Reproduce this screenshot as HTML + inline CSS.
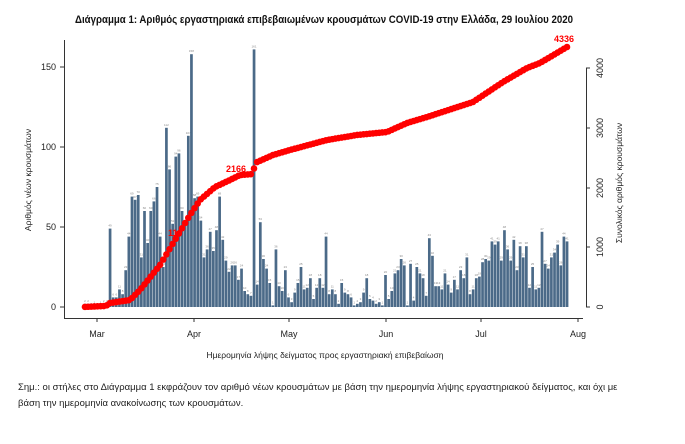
<!DOCTYPE html>
<html><head><meta charset="utf-8"><style>
html,body{margin:0;padding:0;background:#fff;}
svg{display:block;font-family:"Liberation Sans",sans-serif;}
</style></head><body>
<svg id="s" width="685" height="444" viewBox="0 0 685 444" xmlns="http://www.w3.org/2000/svg">
<text x="324" y="23" text-anchor="middle" font-size="11" font-weight="bold" fill="#111" textLength="498" lengthAdjust="spacingAndGlyphs">Διάγραμμα 1: Αριθμός εργαστηριακά επιβεβαιωμένων κρουσμάτων COVID-19 στην Ελλάδα, 29 Ιουλίου 2020</text>
<g id="bars"></g>
<g id="dots"></g>
<!-- left axis -->
<line x1="64.5" y1="40" x2="64.5" y2="318" stroke="#333" stroke-width="1"/>
<g stroke="#333"><line x1="60" y1="67" x2="64" y2="67"/><line x1="60" y1="147" x2="64" y2="147"/><line x1="60" y1="227" x2="64" y2="227"/><line x1="60" y1="307" x2="64" y2="307"/></g>
<g font-size="9" fill="#222" text-anchor="end"><text x="56" y="70">150</text><text x="56" y="150">100</text><text x="56" y="230">50</text><text x="56" y="310">0</text></g>
<text transform="translate(31,180) rotate(-90)" text-anchor="middle" font-size="8.5" fill="#222">Αριθμός νέων κρουσμάτων</text>
<!-- bottom axis -->
<line x1="64" y1="318.5" x2="583" y2="318.5" stroke="#333"/>
<g stroke="#333"><line x1="97" y1="318" x2="97" y2="322"/><line x1="194" y1="318" x2="194" y2="322"/><line x1="289" y1="318" x2="289" y2="322"/><line x1="386" y1="318" x2="386" y2="322"/><line x1="481" y1="318" x2="481" y2="322"/><line x1="578" y1="318" x2="578" y2="322"/></g>
<g font-size="9" fill="#222" text-anchor="middle"><text x="97" y="337">Mar</text><text x="194" y="337">Apr</text><text x="289" y="337">May</text><text x="386" y="337">Jun</text><text x="481" y="337">Jul</text><text x="578" y="337">Aug</text></g>
<text x="325" y="358" text-anchor="middle" font-size="8.5" fill="#222">Ημερομηνία λήψης δείγματος προς εργαστηριακή επιβεβαίωση</text>
<!-- right axis -->
<line x1="586.5" y1="68" x2="586.5" y2="307" stroke="#333"/>
<g stroke="#333"><line x1="586" y1="68" x2="590" y2="68"/><line x1="586" y1="128" x2="590" y2="128"/><line x1="586" y1="188" x2="590" y2="188"/><line x1="586" y1="247" x2="590" y2="247"/><line x1="586" y1="307" x2="590" y2="307"/></g>
<g font-size="9" fill="#222" text-anchor="middle"><text transform="translate(603,68) rotate(-90)">4000</text><text transform="translate(603,128) rotate(-90)">3000</text><text transform="translate(603,188) rotate(-90)">2000</text><text transform="translate(603,247) rotate(-90)">1000</text><text transform="translate(603,307) rotate(-90)">0</text></g>
<text transform="translate(622,183) rotate(-90)" text-anchor="middle" font-size="8.5" fill="#222">Συνολικός αριθμός κρουσμάτων</text>
<g font-weight="bold" fill="#f00" font-size="9"><text x="168" y="236">110</text><text x="226" y="172">2166</text><text x="554" y="42">4336</text></g>
<text x="18" y="390" font-size="9.5" fill="#222">Σημ.: οι στήλες στο Διάγραμμα 1 εκφράζουν τον αριθμό νέων κρουσμάτων με βάση την ημερομηνία λήψης εργαστηριακού δείγματος, και όχι με</text>
<text x="18" y="406" font-size="9.5" fill="#222">βάση την ημερομηνία ανακοίνωσης των κρουσμάτων.</text>
</svg>
<script>
var NS="http://www.w3.org/2000/svg";
var vals=[2,2,0,1,0,1,2,2,
49,6,6,11,8,23,44,69,67,70,31,60,40,60,66,75,44,25,112,86,52,94,96,60,52,107,158,68,69,54,31,36,47,35,48,69,42,29,22,26,26,17,24,10,8,7,161,
14,53,30,24,15,1,36,13,10,23,6,3,9,15,25,11,12,18,5,12,18,12,44,8,11,8,2,15,9,8,6,1,2,3,9,18,5,4,2,3,1,20,5,10,21,23,30,26,1,27,4,25,
21,18,7,43,32,13,13,11,21,14,9,17,11,23,18,31,8,11,18,19,28,30,29,41,39,41,29,48,36,29,42,23,38,31,38,12,25,11,12,47,27,24,31,34,39,26,44,41];
var step=3.13,n=vals.length;
var startX=567-(n-1)*step;
var bars=document.getElementById("bars"),h="";
var xs=[];
for(var i=0;i<n;i++){
 var x=startX+i*step;xs.push(x);
 var hh=vals[i]*1.6;
 h+='<rect x="'+(x-1.3).toFixed(2)+'" y="'+(307-hh).toFixed(2)+'" width="2.7" height="'+hh.toFixed(2)+'" fill="#4b6a88"/>';
 h+='<text x="'+x.toFixed(2)+'" y="'+(305-hh).toFixed(2)+'" font-size="3" fill="#888" text-anchor="middle">'+vals[i]+'</text>';
}
bars.innerHTML=h;
var pts=[[82,307],[106,306],[110,303],[130,300],[140,290],[160,265],[175,240],[190,215],[200,200],[215,187],[230,180],[240,175],[253,174],[255,163],[273,155],[290,150],[327,140],[357,135],[387,132],[407,123],[427,117],[473,102],[503,82],[527,68],[540,63],[567,47]];
function yAt(x){for(var k=0;k<pts.length-1;k++){if(x<=pts[k+1][0]){var a=pts[k],b=pts[k+1];return a[1]+(b[1]-a[1])*(x-a[0])/(b[0]-a[0]);}}return pts[pts.length-1][1];}
var d="";
for(var i=0;i<n;i++){d+='<circle cx="'+xs[i].toFixed(2)+'" cy="'+yAt(xs[i]).toFixed(2)+'" r="3.3" fill="#f00"/>';}
document.getElementById("dots").innerHTML=d;
</script>
</body></html>
